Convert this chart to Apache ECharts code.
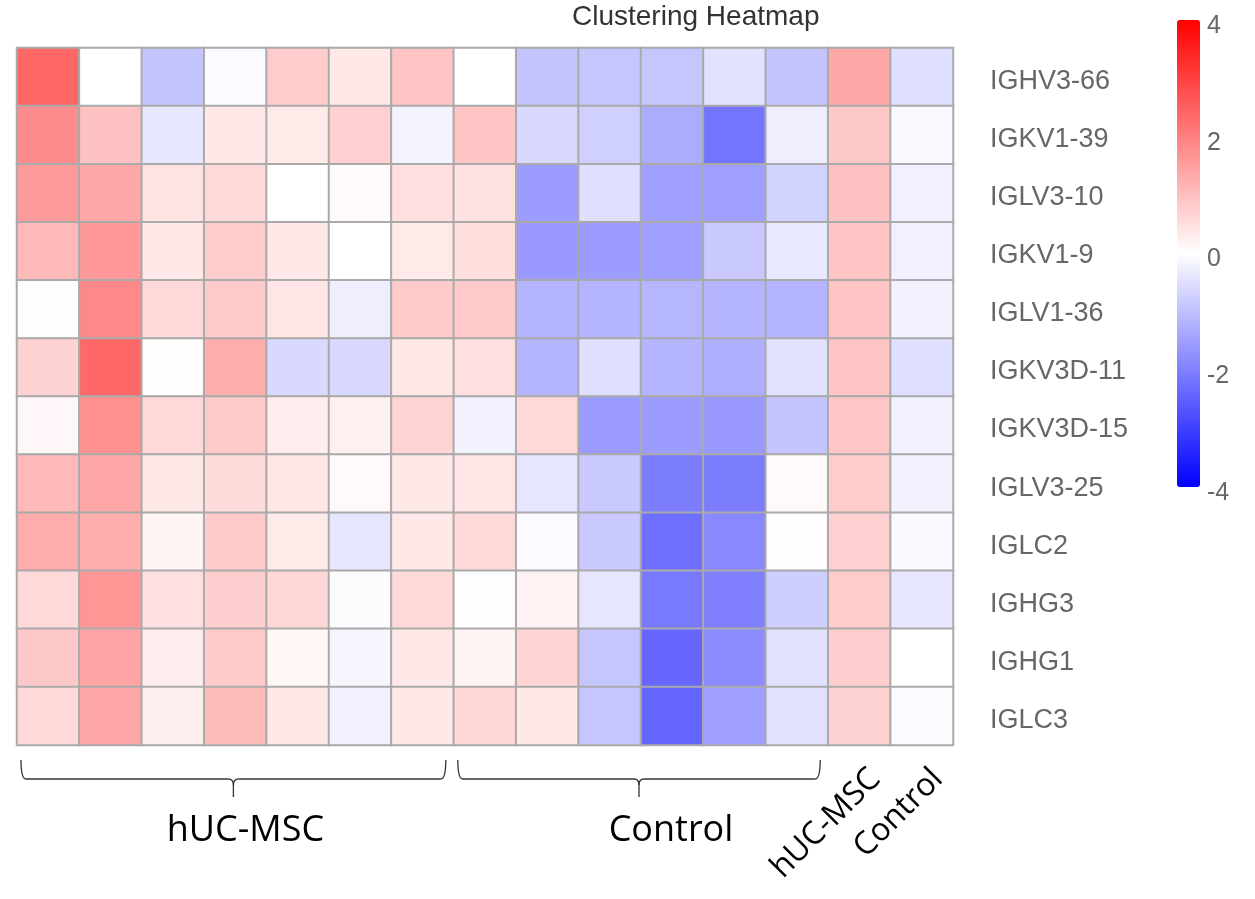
<!DOCTYPE html>
<html>
<head>
<meta charset="utf-8">
<script src="https://cdn.jsdelivr.net/npm/echarts@6/dist/echarts.min.js"></script>
<style>
  html, body { margin: 0; padding: 0; background: #fff; }
  #ch { width: 1255px; height: 899px; }
</style>
</head>
<body>
<div id="ch"></div>
<script>
var genes = ['IGHV3-66', 'IGKV1-39', 'IGLV3-10', 'IGKV1-9', 'IGLV1-36', 'IGKV3D-11',
  'IGKV3D-15', 'IGLV3-25', 'IGLC2', 'IGHG3', 'IGHG1', 'IGLC3'];
var samples = ['M1', 'M2', 'M3', 'M4', 'M5', 'M6', 'M7',
  'C1', 'C2', 'C3', 'C4', 'C5', 'C6', 'hUC-MSC', 'Control'];
var groupNames = ['hUC-MSC', 'Control'];
var groupFirst = [0, 7];
var groupLast = [6, 12];
var meanCols = [13, 14];
var scaleTicks = [-4, -2, 0, 2, 4];

var values = [
  [2.4, 0, -0.93, -0.08, 0.8, 0.36, 0.93, 0, -0.93, -0.9, -0.9, -0.45, -0.93, 1.36, -0.5],
  [1.8, 0.96, -0.38, 0.36, 0.33, 0.73, -0.17, 0.93, -0.6, -0.73, -1.3, -2.18, -0.27, 0.87, -0.1],
  [1.58, 1.36, 0.45, 0.6, 0, 0.06, 0.5, 0.47, -1.55, -0.5, -1.5, -1.5, -0.7, 0.96, -0.24],
  [1.1, 1.6, 0.36, 0.8, 0.36, 0, 0.33, 0.52, -1.6, -1.55, -1.5, -0.85, -0.36, 0.93, -0.24],
  [0.05, 1.87, 0.6, 0.83, 0.4, -0.27, 0.83, 0.83, -1.18, -1.18, -1.15, -1.18, -1.18, 0.93, -0.2],
  [0.7, 2.37, 0.05, 1.27, -0.6, -0.6, 0.36, 0.5, -1.18, -0.5, -1.18, -1.25, -0.45, 0.93, -0.5],
  [0.13, 1.74, 0.6, 0.83, 0.3, 0.24, 0.67, -0.2, 0.6, -1.55, -1.55, -1.6, -0.93, 0.9, -0.2],
  [1.1, 1.4, 0.36, 0.55, 0.4, 0.1, 0.36, 0.4, -0.4, -0.85, -2.05, -2.05, 0.1, 0.8, -0.2],
  [1.3, 1.27, 0.17, 0.83, 0.33, -0.4, 0.36, 0.6, -0.06, -0.85, -2.27, -1.87, 0.03, 0.73, -0.1],
  [0.6, 1.65, 0.5, 0.75, 0.63, -0.05, 0.6, -0.03, 0.2, -0.4, -2.1, -2.0, -0.75, 0.8, -0.4],
  [0.87, 1.43, 0.3, 0.83, 0.14, -0.14, 0.36, 0.18, 0.67, -0.9, -2.4, -1.8, -0.45, 0.75, 0],
  [0.6, 1.4, 0.27, 1.08, 0.36, -0.24, 0.36, 0.63, 0.36, -0.9, -2.43, -1.5, -0.45, 0.7, -0.08]
];

window.onload = function() {
  var ch = echarts.init(document.getElementById('ch'));

  var cells = [];
  for (var r = 0; r < genes.length; r++) {
    for (var c = 0; c < samples.length; c++) {
      cells.push([c, r, values[r][c]]);
    }
  }

  var op = {
    animation: false,
    title: {
      text: 'Clustering Heatmap',
      left: 572,
      top: 3,
      padding: 0,
      textStyle: {
        fontFamily: 'Liberation Sans',
        fontSize: 28,
        fontWeight: 'normal',
        color: '#333'
      }
    },
    grid: [
      { left: 17, top: 48, width: 936, height: 697, outerBoundsMode: 'none' },
      // only used for the colour bar tick labels
      { left: 1177, top: 26, width: 23, height: 467, outerBoundsMode: 'none' }
    ],
    xAxis: [
      {
        type: 'category',
        data: samples,
        axisLine: { show: true, lineStyle: { color: '#ccd6eb', width: 2 } },
        axisTick: { show: false },
        axisLabel: { show: false },
        splitLine: { show: false }
      },
      { type: 'value', gridIndex: 1, show: false }
    ],
    yAxis: [
      {
        type: 'category',
        data: genes,
        inverse: true,
        position: 'right',
        axisLine: { show: false },
        axisTick: { show: false },
        splitLine: { show: false },
        axisLabel: {
          margin: 37,
          formatter: '{g|{value}}',
          rich: {
            g: {
              padding: [9, 0, 0, 0],
              fontFamily: 'Liberation Sans',
              fontSize: 27,
              color: '#666'
            }
          }
        }
      },
      {
        type: 'value',
        gridIndex: 1,
        min: -4,
        max: 4,
        interval: 2,
        position: 'right',
        axisLine: { show: false },
        axisTick: { show: false },
        splitLine: { show: false },
        axisLabel: {
          margin: 7,
          fontFamily: 'Liberation Sans',
          fontSize: 25,
          color: '#666',
          customValues: scaleTicks
        }
      }
    ],
    visualMap: {
      type: 'continuous',
      min: -4,
      max: 4,
      left: 1177,
      top: 20,
      padding: 0,
      itemWidth: 23,
      itemHeight: 467,
      calculable: false,
      text: null,
      showLabel: false,
      seriesIndex: 0,
      inRange: { color: ['#0000ff', '#ffffff', '#ff0000'] }
    },
    series: [{
      type: 'heatmap',
      data: cells,
      itemStyle: { borderColor: '#aaa', borderWidth: 2 },
      emphasis: { disabled: true }
    }]
  };

  ch.setOption(op);

  // group braces and labels under the heatmap
  var x0 = ch.convertToPixel({ xAxisIndex: 0 }, 0);
  var cw = ch.convertToPixel({ xAxisIndex: 0 }, 1) - x0;
  var bottom = 745;
  var yTop = bottom + 15, yMid = bottom + 34, yTip = bottom + 52;
  var labelShift = [12, 32];
  var ls = { fill: 'none', stroke: '#333', lineWidth: 1.3 };
  var gr = [];
  for (var g = 0; g < groupNames.length; g++) {
    var a = x0 + (groupFirst[g] - 0.5) * cw + 4;
    var b = x0 + (groupLast[g] + 0.5) * cw - 8;
    var m = (a + b) / 2;
    var parts = [
      { type: 'bezierCurve', shape: { x1: a, y1: yTop, cpx1: a, cpy1: yMid, x2: a + 5, y2: yMid } },
      { type: 'line', shape: { x1: a + 5, y1: yMid, x2: m - 5, y2: yMid } },
      { type: 'bezierCurve', shape: { x1: m - 5, y1: yMid, cpx1: m, cpy1: yMid, x2: m, y2: yMid + 6 } },
      { type: 'bezierCurve', shape: { x1: m + 5, y1: yMid, cpx1: m, cpy1: yMid, x2: m, y2: yMid + 6 } },
      { type: 'line', shape: { x1: m, y1: yMid + 6, x2: m, y2: yTip } },
      { type: 'line', shape: { x1: m + 5, y1: yMid, x2: b - 5, y2: yMid } },
      { type: 'bezierCurve', shape: { x1: b - 5, y1: yMid, cpx1: b, cpy1: yMid, x2: b, y2: yTop } }
    ];
    for (var q = 0; q < parts.length; q++) {
      parts[q].style = ls;
      gr.push(parts[q]);
    }
    gr.push({
      type: 'text',
      x: m + labelShift[g],
      y: bottom + 86,
      style: {
        text: groupNames[g],
        fontFamily: 'Open Sans',
        fontSize: 36,
        fill: '#000',
        textAlign: 'center',
        textVerticalAlign: 'middle'
      }
    });
  }
  for (var k = 0; k < meanCols.length; k++) {
    var cx = ch.convertToPixel({ xAxisIndex: 0 }, meanCols[k]);
    gr.push({
      type: 'text',
      x: cx + 16,
      y: bottom + 29,
      rotation: Math.PI / 4,
      style: {
        text: samples[meanCols[k]],
        fontFamily: 'Open Sans',
        fontSize: 32,
        fill: '#000',
        textAlign: 'right',
        textVerticalAlign: 'middle'
      }
    });
  }
  ch.setOption({ graphic: gr });
};
</script>
</body>
</html>
